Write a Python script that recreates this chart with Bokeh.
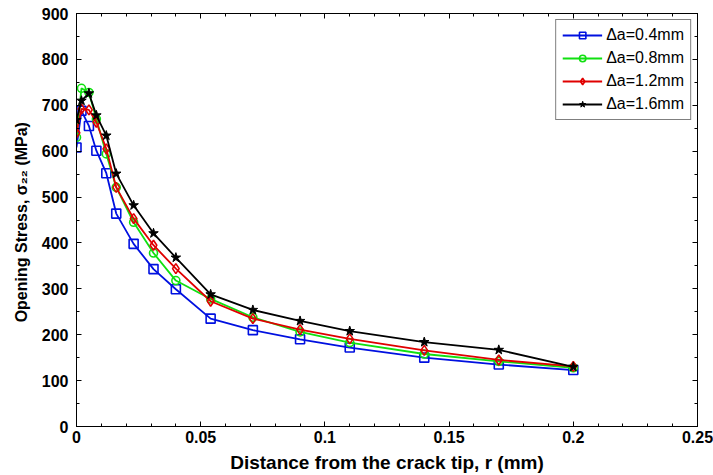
from bokeh.plotting import figure
from bokeh.models import (LinearAxis, SingleIntervalTicker, CustomJSTickFormatter,
                          Range1d, Legend, LegendItem)
from bokeh.embed import file_html
from bokeh.resources import INLINE

# Data
r_mm = [0.0, 0.002, 0.005, 0.008, 0.012, 0.016, 0.023, 0.031, 0.040, 0.054,
        0.071, 0.090, 0.110, 0.140, 0.170, 0.200]
s_04 = [608, 688, 655, 601, 552, 464, 398, 343, 299, 235, 210, 190, 172, 150, 135, 123]
s_08 = [630, 737, 728, 670, 594, 521, 445, 378, 318, 278, 238, 206, 183, 158, 142, 128]
s_12 = [640, 692, 690, 663, 605, 521, 453, 395, 344, 273, 235, 211, 191, 166, 145, 131]
s_16 = [668, 710, 726, 678, 634, 551, 482, 421, 368, 288, 254, 230, 208, 184, 167, 130]
labels = ["\u0394a=0.4mm", "\u0394a=0.8mm", "\u0394a=1.2mm", "\u0394a=1.6mm"]

FONT = "Liberation Sans"

p = figure(width=713, height=475, output_backend="svg", toolbar_location=None,
           x_range=Range1d(0, 0.25), y_range=Range1d(0, 900),
           min_border_left=76, min_border_right=16, min_border_top=13, min_border_bottom=49)
p.xgrid.visible = False
p.ygrid.visible = False
p.outline_line_color = "black"
p.outline_line_width = 1
p.background_fill_color = "white"
p.border_fill_color = "white"

fmt = CustomJSTickFormatter(code="""
var s = tick.toFixed(2);
s = s.replace(/0+$/, '').replace(/\\.$/, '');
return s;
""")

xt = SingleIntervalTicker(interval=0.05, num_minor_ticks=5)
yt = SingleIntervalTicker(interval=100, num_minor_ticks=2)
p.xaxis.ticker = xt
p.yaxis.ticker = yt
p.xaxis.formatter = fmt

for ax in (p.xaxis[0], p.yaxis[0]):
    ax.major_tick_in = 5
    ax.major_tick_out = 0
    ax.minor_tick_in = 3
    ax.minor_tick_out = 0
    ax.axis_line_color = "black"
    ax.major_label_text_font = FONT
    ax.major_label_text_font_style = "bold"
    ax.major_label_text_font_size = "16px"
    ax.major_label_text_color = "black"
    ax.axis_label_text_font = FONT
    ax.axis_label_text_font_style = "bold"
    ax.axis_label_text_color = "black"

p.xaxis.axis_label = "Distance from the crack tip, r (mm)"
p.xaxis.axis_label_text_font_size = "19px"
p.xaxis.major_label_standoff = 4
p.xaxis.axis_label_standoff = 6
p.yaxis.axis_label = "Opening Stress, \u03c3\u2082\u2082  (MPa)"
p.yaxis.axis_label_text_font_size = "16px"
p.yaxis.major_label_standoff = 8
p.yaxis.axis_label_standoff = 9

# mirrored ticks
top = LinearAxis(ticker=SingleIntervalTicker(interval=0.05, num_minor_ticks=5),
                 major_label_text_font_size="0px", major_tick_in=5, major_tick_out=0,
                 minor_tick_in=3, minor_tick_out=0, major_label_standoff=0)
right = LinearAxis(ticker=SingleIntervalTicker(interval=100, num_minor_ticks=2),
                   major_label_text_font_size="0px", major_tick_in=5, major_tick_out=0,
                   minor_tick_in=3, minor_tick_out=0, major_label_standoff=0)
top.major_label_text_color = None
right.major_label_text_color = None
p.add_layout(top, "above")
p.add_layout(right, "right")

items = []
lw = 1.8
l1 = p.line(r_mm, s_04, line_color="#0010e0", line_width=lw)
m1 = p.scatter(r_mm, s_04, marker="square", size=9, fill_color=None,
               line_color="#0010e0", line_width=1.6)
items.append(LegendItem(label=labels[0], renderers=[l1, m1]))

l2 = p.line(r_mm, s_08, line_color="#10e010", line_width=lw)
m2 = p.scatter(r_mm, s_08, marker="circle", size=8, fill_color=None,
               line_color="#10e010", line_width=1.6)
items.append(LegendItem(label=labels[1], renderers=[l2, m2]))

l3 = p.line(r_mm, s_12, line_color="#e00000", line_width=lw)
m3 = p.scatter(r_mm, s_12, marker="diamond", size=10, fill_color=None,
               line_color="#e00000", line_width=1.6)
items.append(LegendItem(label=labels[2], renderers=[l3, m3]))

l4 = p.line(r_mm, s_16, line_color="black", line_width=lw)
m4 = p.scatter(r_mm, s_16, marker="star", size=10, fill_color="black",
               line_color="black", line_width=1)
items.append(LegendItem(label=labels[3], renderers=[l4, m4]))

legend = Legend(items=items, location="top_right", margin=6,
                label_text_font=FONT, label_text_font_size="16px",
                label_text_color="black",
                border_line_color="black", border_line_width=1,
                glyph_width=40, glyph_height=16, label_height=16,
                spacing=5, padding=6, label_standoff=4,
                background_fill_alpha=1.0)
p.add_layout(legend, "center")

open("out.html", "w").write(file_html(p, INLINE))
